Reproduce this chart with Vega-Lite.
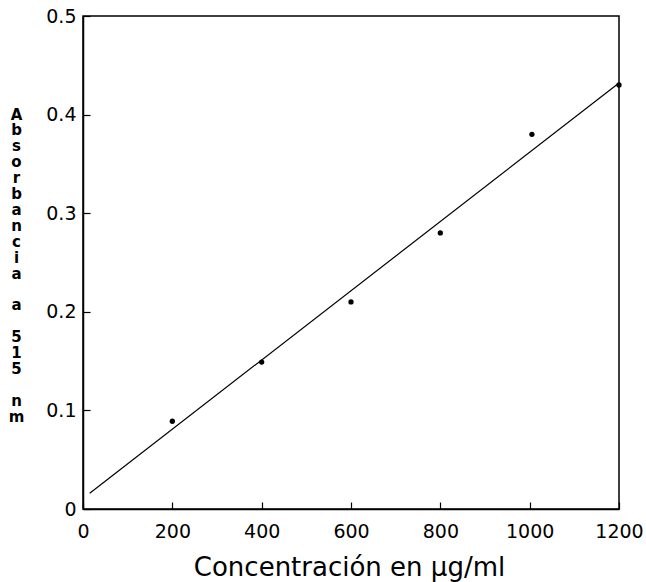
{
  "$schema": "https://vega.github.io/schema/vega-lite/v6.json",
  "width": 536,
  "height": 493,
  "autosize": "none",
  "padding": {"left": 83, "top": 16, "right": 27, "bottom": 73},
  "background": "white",
  "config": {
    "view": {"stroke": "black", "strokeWidth": 1.5},
    "axis": {
      "grid": false,
      "domainColor": "black",
      "domainWidth": 1.5,
      "tickColor": "black",
      "tickWidth": 1.2,
      "tickSize": -7,
      "labelFont": "DejaVu Sans",
      "labelFontSize": 19,
      "labelColor": "black",
      "titleColor": "black"
    }
  },
  "encoding": {
    "x": {
      "field": "c",
      "type": "quantitative",
      "scale": {"domain": [0, 1200], "nice": false},
      "axis": {
        "values": [0, 200, 400, 600, 800, 1000, 1200],
        "format": "d",
        "labelPadding": 20,
        "labelFlush": false,
        "title": "Concentración en µg/ml",
        "titleFont": "DejaVu Sans",
        "titleFontSize": 26,
        "titleFontWeight": "normal",
        "titleAlign": "center",
        "titleBaseline": "alphabetic",
        "titleX": 266,
        "titleY": 66
      }
    },
    "y": {
      "field": "a",
      "type": "quantitative",
      "scale": {"domain": [0, 0.5], "nice": false},
      "axis": {
        "values": [0, 0.1, 0.2, 0.3, 0.4, 0.5],
        "labelExpr": "datum.value == 0 ? '0' : format(datum.value, '.1f')",
        "labelPadding": 14,
        "labelFlush": false,
        "title": ["A", "b", "s", "o", "r", "b", "a", "n", "c", "i", "a", "\u2800", "a", "\u2800", "5", "1", "5", "\u2800", "n", "m"],
        "titleFont": "DejaVu Sans",
        "titleFontSize": 15,
        "titleFontWeight": "bold",
        "titleAngle": 0,
        "titleAlign": "center",
        "titleBaseline": "top",
        "titleLineHeight": 15.9,
        "titleX": -67,
        "titleY": 91
      }
    }
  },
  "layer": [
    {
      "data": {"values": [{"c": 15, "a": 0.016}, {"c": 1200, "a": 0.432}]},
      "mark": {"type": "line", "color": "black", "strokeWidth": 1.2}
    },
    {
      "data": {
        "values": [
          {"c": 200, "a": 0.089},
          {"c": 400, "a": 0.149},
          {"c": 600, "a": 0.21},
          {"c": 800, "a": 0.28},
          {"c": 1005, "a": 0.38},
          {"c": 1200, "a": 0.43}
        ]
      },
      "mark": {"type": "circle", "color": "black", "size": 28, "opacity": 1}
    }
  ]
}
